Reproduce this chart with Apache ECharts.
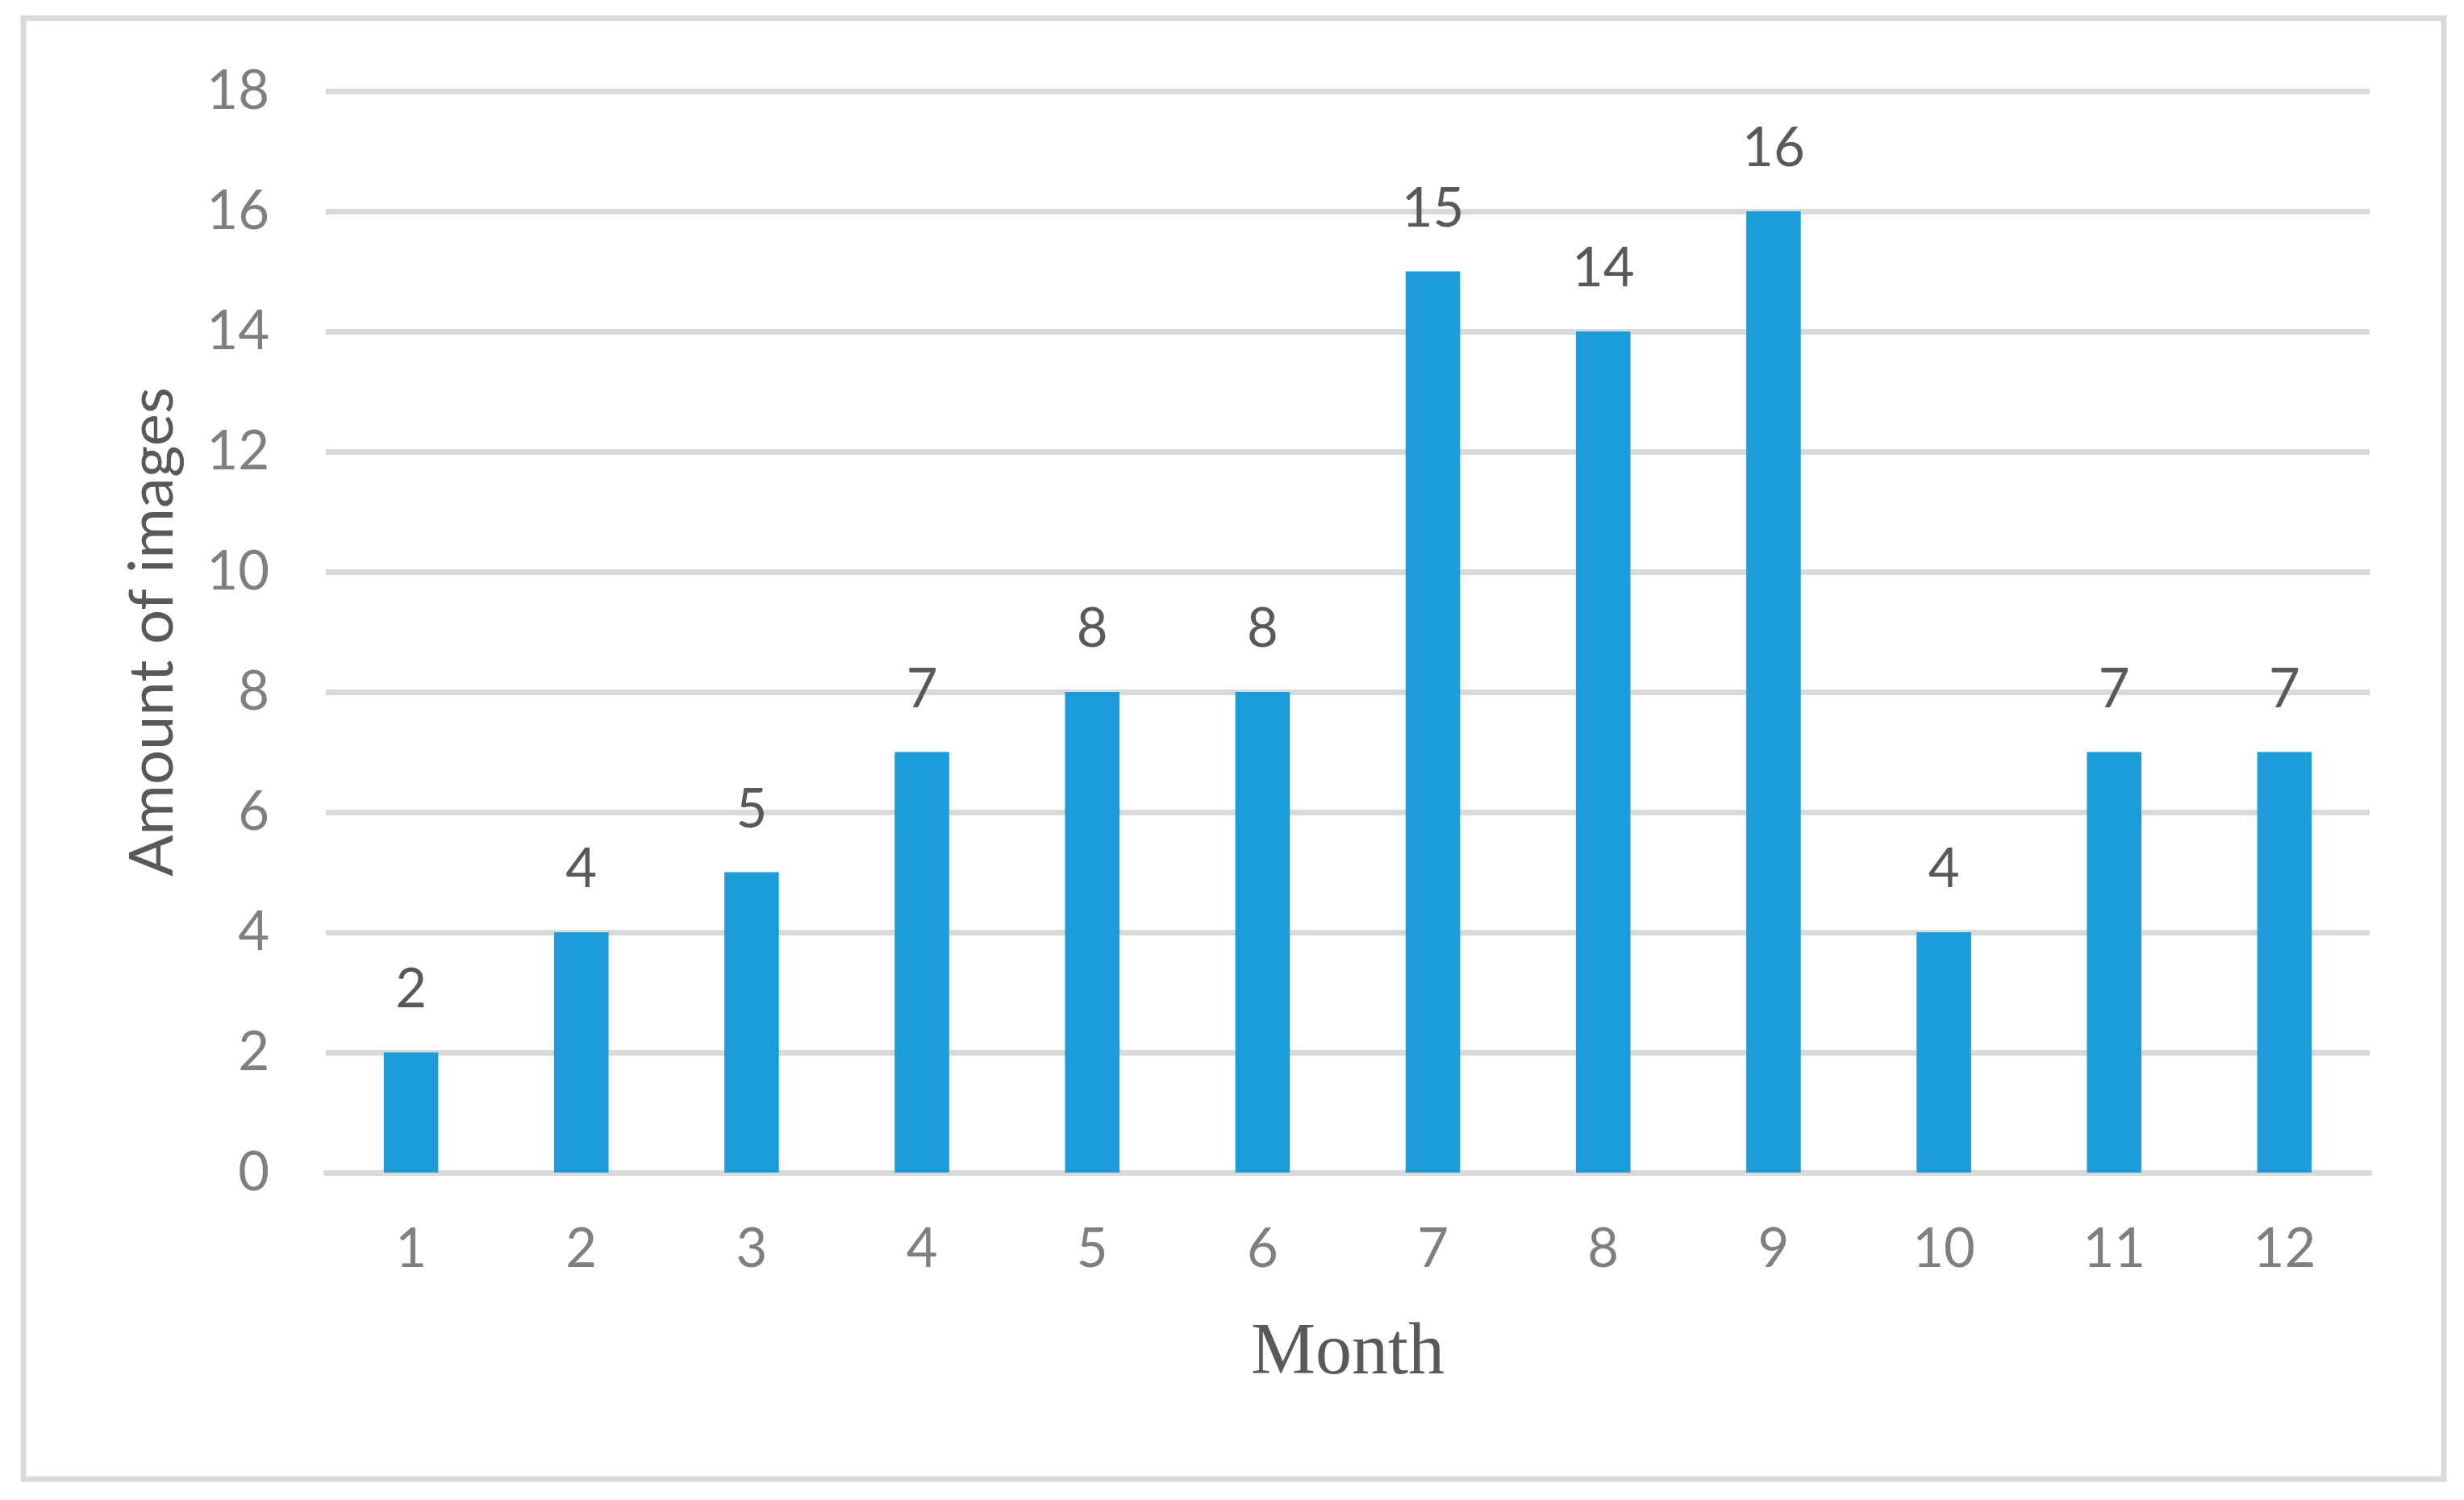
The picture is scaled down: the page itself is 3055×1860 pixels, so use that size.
<!DOCTYPE html>
<html>
<head>
<meta charset="utf-8">
<script src="https://cdn.jsdelivr.net/npm/echarts@6/dist/echarts.min.js"></script>
<style>
  html, body { margin: 0; padding: 0; background: #ffffff; }
  #chart { width: 3055px; height: 1860px; }
</style>
</head>
<body>
<div id="chart"></div>
<script>
const months = ['1', '2', '3', '4', '5', '6', '7', '8', '9', '10', '11', '12'];
const imageCounts = [2, 4, 5, 7, 8, 8, 15, 14, 16, 4, 7, 7];
const yTicks = { min: 0, max: 18, interval: 2 };
const xTitle = 'Month';
const yTitle = 'Amount of images';

const chart = echarts.init(document.getElementById('chart'), null, { renderer: 'canvas' });

const option = {
  backgroundColor: '#ffffff',
  animation: false,
  graphic: [{
    type: 'rect',
    shape: { x: 29, y: 22.5, width: 3001, height: 1811.5 },
    style: { fill: 'none', stroke: '#d9d9d9', lineWidth: 7 },
    silent: true
  }],
  grid: { left: 404, right: 117, top: 113, bottom: 406, containLabel: false },
  xAxis: {
    type: 'category',
    data: months,
    name: xTitle,
    nameLocation: 'middle',
    nameGap: 180,
    nameTextStyle: { fontFamily: 'Liberation Serif', fontSize: 90, color: '#595959' },
    axisLine: { show: true, lineStyle: { color: '#d9d9d9', width: 7 } },
    axisTick: { show: false },
    axisLabel: {
      fontFamily: 'Lato', fontSize: 67, color: '#7f7f7f',
      margin: 95, verticalAlign: 'middle'
    }
  },
  yAxis: {
    type: 'value',
    min: yTicks.min, max: yTicks.max, interval: yTicks.interval,
    name: yTitle,
    nameLocation: 'middle',
    nameRotate: 90,
    nameGap: 177,
    nameTextStyle: { fontFamily: 'Lato', fontSize: 76, color: '#595959' },
    axisLine: { show: false },
    axisTick: { show: false },
    splitLine: { show: true, lineStyle: { color: '#d9d9d9', width: 7 } },
    axisLabel: { fontFamily: 'Lato', fontSize: 67, color: '#7f7f7f', margin: 70 }
  },
  series: [{
    type: 'bar',
    data: imageCounts,
    barCategoryGap: '68%',
    itemStyle: { color: '#1c9cd8' },
    label: {
      show: true, position: 'top', distance: 44,
      fontFamily: 'Lato', fontSize: 67, color: '#595959'
    }
  }]
};
chart.setOption(option);
</script>
</body>
</html>
